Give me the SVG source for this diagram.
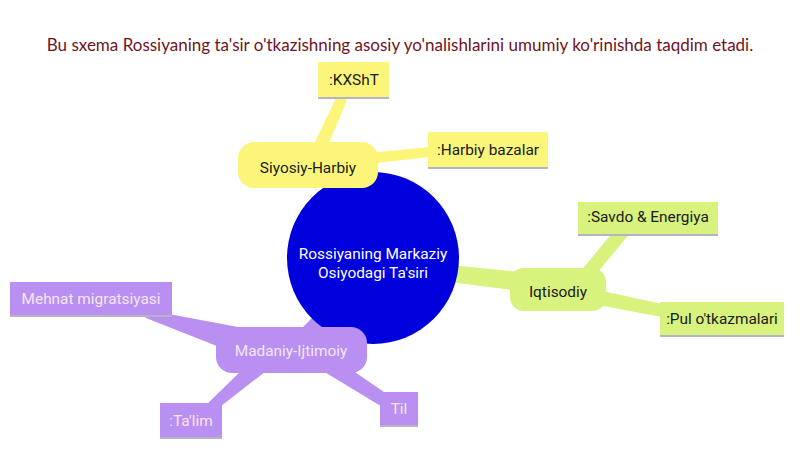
<svg xmlns="http://www.w3.org/2000/svg" width="800" height="450" viewBox="0 0 800 450">
<defs>
<style>
.t{font-family:Roboto,"Liberation Sans",sans-serif;font-size:15.4px;text-anchor:middle;fill:#1a1a1a}
.w{fill:#f6e6f8}
.c{fill:#ffffff}
.ttl{font-family:Lato,"Liberation Sans",sans-serif;font-size:17px;text-anchor:middle;fill:#6e1424}
.y{fill:#fbf67a}
.g{fill:#d8f27e}
.p{fill:#b98ff2}
.sh{fill:#b4b4c4}
</style>
</defs>
<rect width="800" height="450" fill="#ffffff"/>
<text class="ttl" x="400" y="51">Bu sxema Rossiyaning ta'sir o'tkazishning asosiy yo'nalishlarini umumiy ko'rinishda taqdim etadi.</text>
<g id="connectors">
<polygon class="y" points="315,142 327,148 347,100 337,96"/>
<polygon class="y" points="368,153 430,147 430,157 368,164"/>
<polygon class="g" points="450,265 520,272 520,291 450,282"/>
<polygon class="g" points="580,272 598,272 631,232 613,232"/>
<polygon class="g" points="598,290 662,304 662,317 598,305"/>
<polygon class="p" points="298,332 314,316 332,322 326,338"/>
<polygon class="p" points="142,309 146,318 232,352 238,327"/>
<polygon class="p" points="244,368 270,368 221,406 205,406"/>
<polygon class="p" points="318,368 346,366 384,392 384,408"/>
</g>
<g id="n-center"><circle cx="373" cy="258" r="86" fill="#0000dc"/><text class="t c" x="373" y="259">Rossiyaning Markaziy</text><text class="t c" x="373" y="278">Osiyodagi Ta'siri</text></g>
<g id="n-siyosiy"><rect class="y" x="238" y="142" width="140" height="46" rx="16"/><text class="t" x="308" y="173">Siyosiy-Harbiy</text></g>
<g id="n-kxsht"><rect class="sh" x="318" y="64" width="71" height="35"/><rect class="y" x="318" y="62" width="71" height="35"/><text class="t" x="354" y="85">:KXShT</text></g>
<g id="n-harbiy"><rect class="sh" x="428" y="134" width="120" height="35"/><rect class="y" x="428" y="132" width="120" height="35"/><text class="t" x="488" y="155">:Harbiy bazalar</text></g>
<g id="n-iqtisodiy"><rect class="g" x="510" y="268" width="96" height="43" rx="14"/><text class="t" x="558" y="297">Iqtisodiy</text></g>
<g id="n-savdo"><rect class="sh" x="578" y="204" width="140" height="32"/><rect class="g" x="578" y="202" width="140" height="32"/><text class="t" x="648" y="222">:Savdo &amp; Energiya</text></g>
<g id="n-pul"><rect class="sh" x="660" y="304" width="124" height="33"/><rect class="g" x="660" y="302" width="124" height="33"/><text class="t" x="722" y="324">:Pul o'tkazmalari</text></g>
<g id="n-madaniy"><rect class="p" x="216" y="327" width="151" height="46" rx="16"/><text class="t w" x="291" y="356">Madaniy-Ijtimoiy</text></g>
<g id="n-mehnat"><rect class="sh" x="10" y="284" width="162" height="33"/><rect class="p" x="10" y="282" width="162" height="33"/><text class="t w" x="91" y="304">Mehnat migratsiyasi</text></g>
<g id="n-talim"><rect class="sh" x="160" y="405" width="62" height="34"/><rect class="p" x="160" y="403" width="62" height="34"/><text class="t w" x="191" y="426">:Ta'lim</text></g>
<g id="n-til"><rect class="sh" x="380" y="394" width="38" height="33"/><rect class="p" x="380" y="392" width="38" height="33"/><text class="t w" x="399" y="414">Til</text></g>
</svg>
